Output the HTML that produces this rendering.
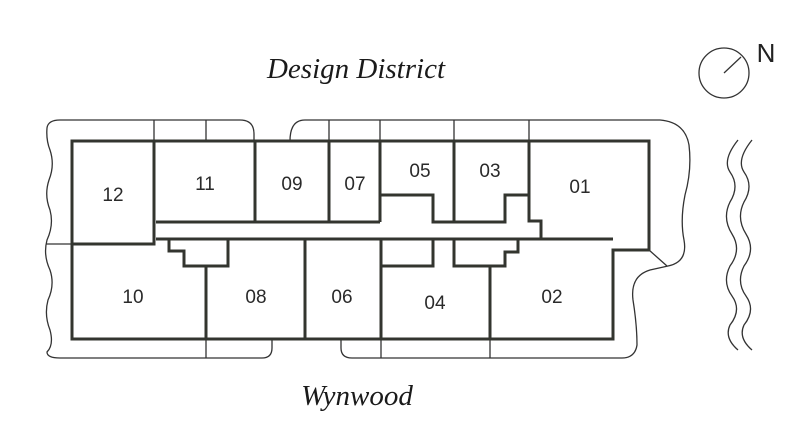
<!DOCTYPE html>
<html><head><meta charset="utf-8"><style>
html,body{margin:0;padding:0;background:#fff;}
svg{display:block}
.u{font-family:"Liberation Sans",sans-serif;font-size:19px;fill:#2a2a2a;text-anchor:middle}
.t{font-family:"Liberation Serif",serif;font-style:italic;font-size:29px;fill:#1a1a1a;text-anchor:middle}
</style></head><body>
<svg width="802" height="427" viewBox="0 0 802 427" xmlns="http://www.w3.org/2000/svg">
<g fill="none" stroke="#333" stroke-width="1.3">
<!-- outer thin outline left -->
<path d="M60,120 L240,120 Q254,120 254,134 L254,141"/>
<path d="M60,120 Q48,120 47,128 Q46,140 50,150 Q55,165 49,180 Q44,195 50,210 Q54,225 47,240 Q43,255 50,270 Q55,285 48,300 Q44,315 50,330 Q54,345 47,352 Q47,358 60,358 L262,358 Q272,358 272,348 L272,339"/>
<path d="M290,141 Q290,120 305,120 L660,120 Q685,122 689,145 Q692,170 685,195 Q680,220 684,240 Q688,262 668,266 L650,270 Q630,276 633,300 Q637,325 637,345 Q635,358 622,358 L352,358 Q341,358 341,348 L341,339"/>
<!-- thin dividers -->
<path d="M154,120V141 M206,120V141 M329,120V141 M380,120V141 M454,120V141 M529,120V141"/>
<path d="M206,339V358 M381,339V358 M490,339V358"/>
<path d="M46,244H72 M649,250L667,266"/>
<!-- north -->
<circle cx="724" cy="73" r="25"/>
<path d="M724,73L741,57"/>
<!-- waves -->
<path d="M738,140 Q722,160 730,172 Q740,186 730,202 Q722,218 732,234 Q742,250 730,266 Q722,282 732,296 Q742,310 730,325 Q724,338 738,350"/>
<path d="M752,140 Q736,160 744,172 Q754,186 744,202 Q736,218 746,234 Q756,250 744,266 Q736,282 746,296 Q756,310 744,325 Q738,338 752,350"/>
</g>
<g fill="none" stroke="#33352f" stroke-width="3" stroke-linejoin="miter">
<path d="M72,141 H649 V250 H613 V339 H72 Z"/>
<path d="M154,141 V244 H72"/>
<path d="M156,222 H380 M255,141 V222 M329,141 V222 M380,141 V222"/>
<path d="M156,239 H613"/>
<path d="M169,239 V251 H184 V266 H228 V239 M206,266 V339"/>
<path d="M305,239 V339 M381,239 V339"/>
<path d="M380,195 H433 V222 H505 V195 H529 M454,141 V222"/>
<path d="M529,141 V221 H541 V239"/>
<path d="M381,266 H433 V239 M454,239 V266 H505 V252 H518 V239 M490,266 V339"/>
</g>
<text class="u" x="113" y="201">12</text>
<text class="u" x="205" y="190">11</text>
<text class="u" x="292" y="190">09</text>
<text class="u" x="355" y="190">07</text>
<text class="u" x="420" y="177">05</text>
<text class="u" x="490" y="177">03</text>
<text class="u" x="580" y="193">01</text>
<text class="u" x="133" y="303">10</text>
<text class="u" x="256" y="303">08</text>
<text class="u" x="342" y="303">06</text>
<text class="u" x="435" y="309">04</text>
<text class="u" x="552" y="303">02</text>
<text class="t" x="356" y="78">Design District</text>
<text class="t" x="357" y="405">Wynwood</text>
<text x="766" y="62" style="font-family:'Liberation Sans',sans-serif;font-size:26px;fill:#222;text-anchor:middle">N</text>
</svg>
</body></html>
